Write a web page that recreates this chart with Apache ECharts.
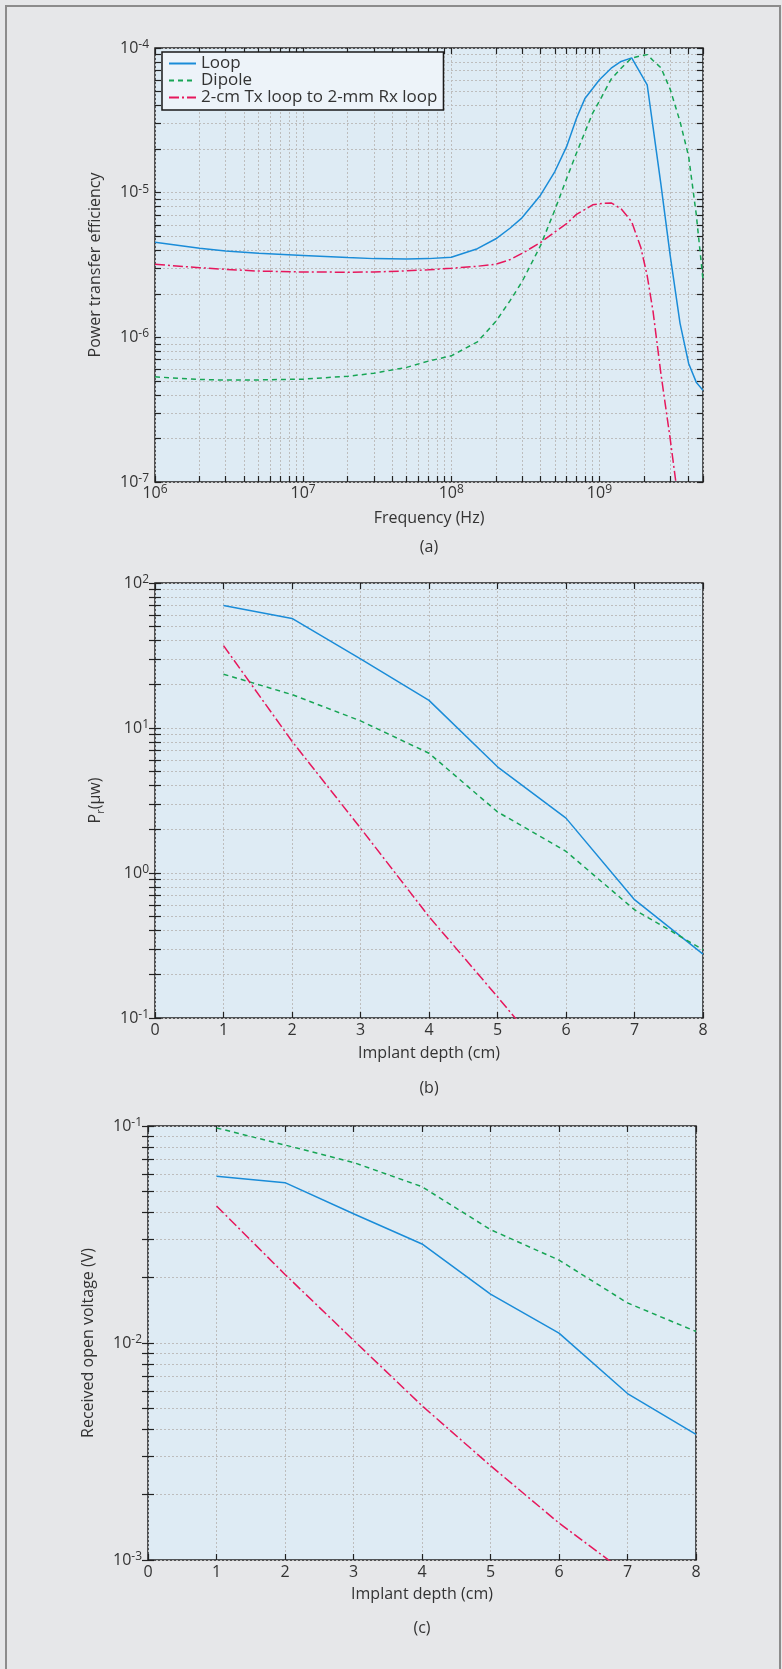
<!DOCTYPE html>
<html>
<head>
<meta charset="utf-8">
<script src="https://cdn.jsdelivr.net/npm/echarts@6/dist/echarts.min.js"></script>
<style>
html, body { margin: 0; padding: 0; background: #e6e7e9; }
#main { width: 782px; height: 1669px; }
</style>
</head>
<body>
<div id="main"></div>
<script>
// ---- (a) power transfer efficiency vs frequency ----
var freqHz = [1e6, 2e6, 3e6, 5e6, 1e7, 2e7, 3e7, 5e7, 7e7, 1e8, 1.5e8, 2e8, 2.5e8, 3e8, 4e8, 5e8,
  6e8, 7e8, 8e8, 9e8, 1e9, 1.2e9, 1.4e9, 1.65e9, 1.9e9, 2.1e9, 2.3e9, 2.6e9, 3e9, 3.5e9, 4e9, 4.5e9, 5e9];
var loopEff = [4.54e-6, 4.13e-6, 3.95e-6, 3.81e-6, 3.68e-6, 3.56e-6, 3.5e-6, 3.48e-6, 3.5e-6, 3.58e-6, 4.1e-6,
  4.8e-6, 5.7e-6, 6.7e-6, 9.6e-6, 1.4e-5, 2.08e-5, 3.27e-5, 4.5e-5, 5.25e-5, 6.04e-5, 7.25e-5, 8.07e-5,
  8.55e-5, 6.65e-5, 5.57e-5, 2.84e-5, 1.14e-5, 3.7e-6, 1.25e-6, 6.6e-7, 4.9e-7, 4.3e-7];
var dipoleEff = [5.33e-7, 5.12e-7, 5.06e-7, 5.08e-7, 5.14e-7, 5.38e-7, 5.65e-7, 6.2e-7, 6.85e-7, 7.45e-7, 9.3e-7,
  1.29e-6, 1.8e-6, 2.42e-6, 4.3e-6, 7.6e-6, 1.25e-5, 1.88e-5, 2.64e-5, 3.55e-5, 4.3e-5, 6.1e-5, 7.25e-5,
  8.53e-5, 8.83e-5, 9.0e-5, 8.2e-5, 7.3e-5, 5.2e-5, 3.1e-5, 1.78e-5, 7.1e-6, 2.5e-6];
var smallLoopEff = [3.2e-6, 3.03e-6, 2.95e-6, 2.87e-6, 2.83e-6, 2.82e-6, 2.83e-6, 2.88e-6, 2.93e-6, 3.0e-6, 3.1e-6,
  3.2e-6, 3.45e-6, 3.8e-6, 4.52e-6, 5.35e-6, 6.1e-6, 7.08e-6, 7.66e-6, 8.24e-6, 8.38e-6, 8.5e-6, 7.73e-6,
  6.3e-6, 4.2e-6, 2.67e-6, 1.51e-6, 5.6e-7, 2.0e-7, 6e-8, 2e-8, 8e-9, 4e-9];

// ---- (b) received power (uW) vs implant depth ----
var depthCm = [1, 2, 3, 4, 5, 6, 7, 8];
var loopPr = [70, 57, 30, 15.5, 5.4, 2.39, 0.655, 0.276];
var dipolePr = [23.5, 17, 11.2, 6.7, 2.64, 1.41, 0.558, 0.296];
var smallLoopPr = [37, 8.1, 2.04, 0.5, 0.14, 0.038, 0.01, 0.0027];

// ---- (c) received open voltage (V) vs implant depth ----
var loopV = [0.0587, 0.0548, 0.0394, 0.0286, 0.0168, 0.0111, 0.00585, 0.00379];
var dipoleV = [0.098, 0.0817, 0.0679, 0.0525, 0.0333, 0.0241, 0.0153, 0.0113];
var smallLoopV = [0.0428, 0.0207, 0.0103, 0.00514, 0.00272, 0.00148, 0.00086, 0.0005];

var seriesNames = ['Loop', 'Dipole', '2-cm Tx loop to 2-mm Rx loop'];
var freqLabels = [1e6, 1e7, 1e8, 1e9];
var effLabels = [1e-7, 1e-6, 1e-5, 1e-4];
var prLabels = [0.1, 1, 10, 100];
var voltLabels = [0.001, 0.01, 0.1];
var captions = ['(a)', '(b)', '(c)'];

var FONT = "'Open Sans', 'Noto Sans', sans-serif";
var INK = '#333333';
var colors = ['#1a8cd8', '#17a555', '#e6175c'];
var dashes = ['solid', [5, 4], [10, 3, 2, 3]];

// every 1..9 x 10^n between lo and hi (for ticks + dotted grid)
function logTicks(lo, hi) {
  var out = [];
  for (var e = Math.floor(Math.log10(lo)) - 1; e <= Math.ceil(Math.log10(hi)); e++) {
    for (var m = 1; m <= 9; m++) {
      var v = parseFloat((m * Math.pow(10, e)).toPrecision(4));
      if (v >= lo && v <= hi) out.push(v);
    }
  }
  return out;
}

function powLabel(v) {
  return '{b|10}{s|' + Math.round(Math.log10(v)) + '}';
}
var powRich = {
  b: { fontSize: 16, lineHeight: 19, color: INK, fontFamily: FONT },
  s: { fontSize: 12, verticalAlign: 'top', color: INK, fontFamily: FONT }
};
var gridLine = { show: true, lineStyle: { color: '#bdbdbd', width: 1, type: [2, 2] } };
var tickStyle = { color: '#222', width: 1.2 };

function makeAxis(gi, pos, type, min, max, ticks, labels, extra) {
  var isX = pos === 'bottom' || pos === 'top';
  var main = pos === 'bottom' || pos === 'left';
  var ax = {
    gridIndex: gi, type: type, position: pos, min: min, max: max,
    axisLine: { show: false },
    axisTick: { show: true, inside: true, length: 6, lineStyle: tickStyle },
    axisLabel: { show: main, margin: isX ? 4 : 6, color: INK, fontSize: 16, fontFamily: FONT },
    splitLine: main ? gridLine : { show: false }
  };
  if (type === 'log') {
    ax.axisTick.customValues = ticks;
    ax.axisLabel.customValues = labels;
    ax.axisLabel.formatter = powLabel;
    ax.axisLabel.rich = powRich;
    if (isX) ax.axisLabel.margin = 2;
  } else {
    ax.interval = 1;
  }
  if (main && extra) {
    ax.name = extra.name;
    ax.nameLocation = 'middle';
    ax.nameGap = extra.gap;
    ax.nameTextStyle = extra.style || { fontSize: 16, color: INK, fontFamily: FONT };
  }
  return ax;
}

var grids = [
  { left: 155, top: 48, width: 548, height: 434 },
  { left: 155, top: 583, width: 548, height: 435 },
  { left: 148, top: 1126, width: 548, height: 434 }
];
grids.forEach(function (g) {
  g.show = true;
  g.backgroundColor = '#deebf4';
  g.borderColor = '#222';
  g.borderWidth = 1.5;
});

var effTicks = logTicks(1e-7, 1e-4);
var freqTicks = logTicks(1e6, 5e9);
var prTicks = logTicks(0.1, 100);
var voltTicks = logTicks(0.001, 0.1);

var xAxes = [
  makeAxis(0, 'bottom', 'log', 1e6, 5e9, freqTicks, freqLabels, { name: 'Frequency (Hz)', gap: 28 }),
  makeAxis(0, 'top', 'log', 1e6, 5e9, freqTicks, freqLabels),
  makeAxis(1, 'bottom', 'value', 0, 8, null, null, { name: 'Implant depth (cm)', gap: 27 }),
  makeAxis(1, 'top', 'value', 0, 8),
  makeAxis(2, 'bottom', 'value', 0, 8, null, null, { name: 'Implant depth (cm)', gap: 26 }),
  makeAxis(2, 'top', 'value', 0, 8)
];
var yAxes = [
  makeAxis(0, 'left', 'log', 1e-7, 1e-4, effTicks, effLabels, { name: 'Power transfer efficiency', gap: 52 }),
  makeAxis(0, 'right', 'log', 1e-7, 1e-4, effTicks, effLabels),
  makeAxis(1, 'left', 'log', 0.1, 100, prTicks, prLabels, {
    name: '{a|P}{r|r}{a|(μw)}', gap: 52,
    style: { rich: {
      a: { fontSize: 16, lineHeight: 16, color: INK, fontFamily: FONT },
      r: { fontSize: 11, lineHeight: 11, padding: [8, 0, 0, 0], verticalAlign: 'top', color: INK, fontFamily: FONT }
    } }
  }),
  makeAxis(1, 'right', 'log', 0.1, 100, prTicks, prLabels),
  makeAxis(2, 'left', 'log', 0.001, 0.1, voltTicks, voltLabels, { name: 'Received open voltage (V)', gap: 52 }),
  makeAxis(2, 'right', 'log', 0.001, 0.1, voltTicks, voltLabels)
];

function pairs(xs, ys) {
  return xs.map(function (x, i) { return [x, ys[i]]; });
}

var panels = [
  { x: freqHz, ys: [loopEff, dipoleEff, smallLoopEff] },
  { x: depthCm, ys: [loopPr, dipolePr, smallLoopPr] },
  { x: depthCm, ys: [loopV, dipoleV, smallLoopV] }
];
var series = [];
panels.forEach(function (p, gi) {
  p.ys.forEach(function (ys, k) {
    series.push({
      type: 'line',
      name: seriesNames[k],
      xAxisIndex: gi * 2,
      yAxisIndex: gi * 2,
      data: pairs(p.x, ys),
      symbol: 'none',
      clip: true,
      animation: false,
      lineStyle: { color: colors[k], width: 1.5, type: dashes[k] },
      itemStyle: { color: colors[k] }
    });
  });
});

var captionY = [547, 1088, 1628];
var captionX = [429, 429, 422];
var graphics = [{
  type: 'rect', silent: true, z: 100,
  shape: { x: 6, y: 6, width: 774, height: 1680 },
  style: { fill: 'none', stroke: '#8c8c8c', lineWidth: 2 }
}];
captions.forEach(function (c, i) {
  graphics.push({
    type: 'text', x: captionX[i], y: captionY[i],
    style: { text: c, textAlign: 'center', textVerticalAlign: 'middle', fill: INK, font: '16px ' + FONT }
  });
});

var chart = echarts.init(document.getElementById('main'), null, { renderer: 'canvas' });
chart.setOption({
  backgroundColor: '#e6e7e9',
  animation: false,
  grid: grids,
  xAxis: xAxes,
  yAxis: yAxes,
  legend: {
    data: seriesNames,
    orient: 'vertical',
    left: 162,
    top: 52,
    padding: [3, 6, 4, 6],
    itemWidth: 27,
    itemHeight: 12,
    itemGap: 0,
    selectedMode: false,
    itemStyle: { color: 'rgba(0,0,0,0)', borderWidth: 0, opacity: 0 },
    backgroundColor: '#edf3f9',
    borderColor: '#1a1a1a',
    borderWidth: 1.5,
    borderRadius: 0,
    textStyle: { fontSize: 17, lineHeight: 17, color: INK, fontFamily: FONT }
  },
  graphic: graphics,
  series: series
});
</script>
</body>
</html>
